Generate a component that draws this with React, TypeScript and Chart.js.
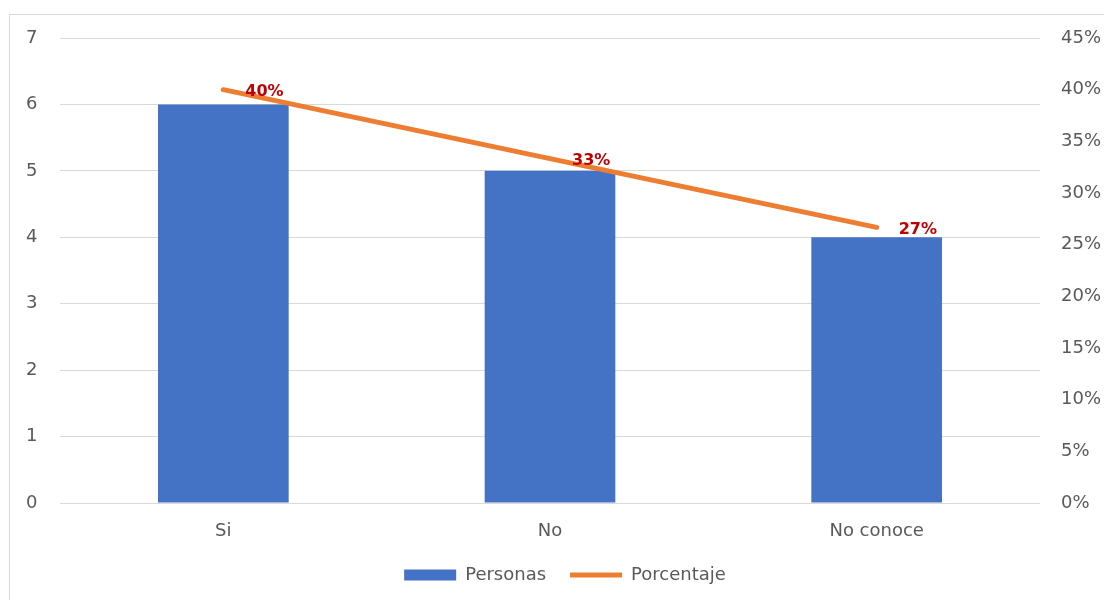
import React, { useEffect, useRef } from "react";
import { Chart, registerables } from "chart.js";

Chart.register(...registerables);

const categories = ["Si", "No", "No conoce"];
const personas = [6, 5, 4];
const porcentaje = [0.4, 0.3333, 0.2667];
const leftTicks = [0, 1, 2, 3, 4, 5, 6, 7];
const rightTicks = [0, 0.05, 0.1, 0.15, 0.2, 0.25, 0.3, 0.35, 0.4, 0.45];

const FONT = "'DejaVu Sans', sans-serif";
const GRAY = "#595959";

const valueLabels = {
  id: "valueLabels",
  afterDatasetsDraw(chart: any) {
    const meta = chart.getDatasetMeta(1);
    const ctx = chart.ctx;
    ctx.save();
    ctx.font = `bold 16px ${FONT}`;
    ctx.fillStyle = "#C00000";
    ctx.textAlign = "left";
    ctx.textBaseline = "middle";
    meta.data.forEach((pt: any, i: number) => {
      const v = chart.data.datasets[1].data[i] as number;
      ctx.fillText(Math.round(v * 100) + "%", pt.x + 22, pt.y + 2);
    });
    ctx.restore();
  },
};

export default function App() {
  const ref = useRef<HTMLCanvasElement>(null);
  useEffect(() => {
    if (!ref.current) return;
    const chart = new Chart(ref.current, {
      type: "bar",
      data: {
        labels: categories,
        datasets: [
          {
            type: "bar",
            label: "Personas",
            data: personas,
            backgroundColor: "#4472C4",
            borderWidth: 0,
            barPercentage: 0.4,
            categoryPercentage: 1,
            yAxisID: "y",
            pointStyle: "rect",
            order: 2,
          } as any,
          {
            type: "line",
            label: "Porcentaje",
            data: porcentaje,
            borderColor: "#ED7D31",
            backgroundColor: "#ED7D31",
            borderWidth: 5,
            borderCapStyle: "round",
            pointRadius: 0,
            pointHoverRadius: 0,
            pointStyle: "line",
            tension: 0,
            yAxisID: "y1",
            order: 1,
          } as any,
        ],
      },
      options: {
        responsive: false,
        animation: false,
        layout: { padding: { left: 26, top: 38, right: 0, bottom: 6 } },
        plugins: {
          tooltip: { enabled: false },
          legend: {
            position: "bottom",
            labels: {
              usePointStyle: true,
              pointStyleWidth: 52,
              boxHeight: 11,
              padding: 24,
              color: GRAY,
              font: { family: FONT, size: 18 },
              sort: (a: any, b: any) => a.datasetIndex - b.datasetIndex,
            },
          },
        },
        scales: {
          x: {
            grid: { display: false },
            border: { display: false },
            ticks: { color: GRAY, font: { family: FONT, size: 18 }, padding: 10 },
            afterFit(scale: any) {
              scale.height = 39;
            },
          },
          y: {
            position: "left",
            min: 0,
            max: 7,
            afterBuildTicks(scale: any) {
              scale.ticks = leftTicks.map((v) => ({ value: v }));
            },
            grid: { color: "#D9D9D9", drawTicks: false, lineWidth: 1 },
            border: { display: false },
            ticks: {
              color: GRAY,
              font: { family: FONT, size: 18 },
              crossAlign: "far",
              padding: 0,
            },
            afterFit(scale: any) {
              scale.width = 34;
            },
          },
          y1: {
            position: "right",
            min: 0,
            max: 0.45,
            afterBuildTicks(scale: any) {
              scale.ticks = rightTicks.map((v) => ({ value: v }));
            },
            grid: { display: false, drawTicks: false },
            border: { display: false },
            ticks: {
              color: GRAY,
              font: { family: FONT, size: 18 },
              padding: 21,
              callback: (v: any) => Math.round(Number(v) * 100) + "%",
            },
            afterFit(scale: any) {
              scale.width = 64;
            },
          },
        },
      },
      plugins: [valueLabels],
    });
    return () => chart.destroy();
  }, []);

  return (
    <div
      style={{
        position: "fixed",
        left: 0,
        top: 0,
        width: 1104,
        height: 600,
        overflow: "hidden",
        background: "#fff",
      }}
    >
      <div
        style={{
          position: "absolute",
          left: 9,
          top: 14,
          width: 1200,
          height: 700,
          border: "1px solid #D9D9D9",
        }}
      />
      <canvas ref={ref} width={1104} height={600} style={{ position: "absolute", left: 0, top: 0 }} />
    </div>
  );
}
